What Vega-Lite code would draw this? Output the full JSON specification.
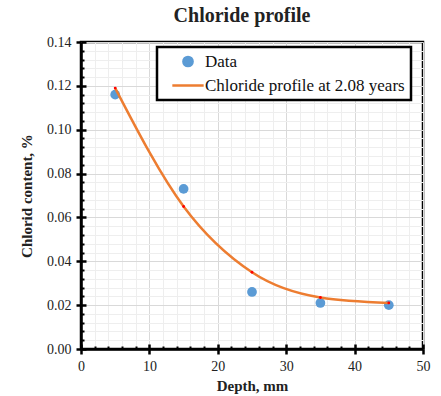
{
  "$schema": "https://vega.github.io/schema/vega-lite/v6.json",
  "width": 342,
  "height": 307,
  "autosize": {"type": "none"},
  "padding": {"left": 81, "top": 42, "right": 18, "bottom": 46},
  "background": "white",
  "config": {
    "view": {"stroke": "black", "strokeWidth": 2.5},
    "font": "Liberation Serif"
  },
  "title": {
    "text": "Chloride profile",
    "font": "Liberation Serif",
    "fontSize": 20,
    "fontWeight": "bold",
    "color": "#222222",
    "anchor": "middle",
    "dx": -10,
    "offset": 9
  },
  "datasets": {
    "obs": [
      {"depth": 5, "chloride": 0.116, "series": "Data"},
      {"depth": 15, "chloride": 0.073, "series": "Data"},
      {"depth": 25, "chloride": 0.026, "series": "Data"},
      {"depth": 35, "chloride": 0.021, "series": "Data"},
      {"depth": 45, "chloride": 0.020, "series": "Data"}
    ],
    "model": [
      {"depth": 5, "chloride": 0.119, "series": "Chloride profile at 2.08 years"},
      {"depth": 15, "chloride": 0.065, "series": "Chloride profile at 2.08 years"},
      {"depth": 25, "chloride": 0.035, "series": "Chloride profile at 2.08 years"},
      {"depth": 35, "chloride": 0.0235, "series": "Chloride profile at 2.08 years"},
      {"depth": 45, "chloride": 0.021, "series": "Chloride profile at 2.08 years"}
    ]
  },
  "resolve": {"axis": {"x": "independent", "y": "independent"}},
  "layer": [
    {
      "data": {"name": "obs"},
      "mark": {"type": "point", "filled": true, "opacity": 1, "size": 95, "shape": "circle"},
      "encoding": {
        "x": {
          "field": "depth", "type": "quantitative",
          "scale": {"domain": [0, 50], "nice": false, "zero": true},
          "axis": {
            "orient": "bottom",
            "values": [2,4,6,8,12,14,16,18,22,24,26,28,32,34,36,38,42,44,46,48],
            "grid": true, "gridColor": "#eeeeee", "gridWidth": 1,
            "labels": false, "domain": false, "title": null,
            "ticks": true, "tickSize": -3, "tickColor": "black", "tickWidth": 2
          }
        },
        "y": {
          "field": "chloride", "type": "quantitative",
          "scale": {"domain": [0, 0.14], "nice": false},
          "axis": {
            "orient": "left",
            "values": [0.004,0.008,0.012,0.016,0.024,0.028,0.032,0.036,0.044,0.048,0.052,0.056,0.064,0.068,0.072,0.076,0.084,0.088,0.092,0.096,0.104,0.108,0.112,0.116,0.124,0.128,0.132,0.136],
            "grid": true, "gridColor": "#eeeeee", "gridWidth": 1,
            "labels": false, "domain": false, "title": null,
            "ticks": true, "tickSize": -3, "tickColor": "black", "tickWidth": 2
          }
        },
        "color": {
          "field": "series", "type": "nominal",
          "scale": {"domain": ["Data", "Chloride profile at 2.08 years"], "range": ["#5b9bd5", "#ed7d31"]},
          "legend": {
            "title": null,
            "orient": "none",
            "legendX": 76,
            "legendY": 5,
            "direction": "vertical",
            "strokeColor": "black",
            "fillColor": "white",
            "padding": 6,
            "rowPadding": 4,
            "labelFont": "Liberation Serif",
            "labelFontSize": 17,
            "labelColor": "#111111",
            "labelOffset": 25,
            "symbolStrokeWidth": 2.5,
            "symbolSize": 85,
            "symbolOpacity": 1,
            "labelLimit": 400,
            "encode": {
              "legend": {"update": {"strokeWidth": {"value": 2.5}}},
              "symbols": {
                "update": {
                  "x": {"value": 25},
                  "shape": {"signal": "datum.value === 'Data' ? 'circle' : 'M-3.4,0H3.4'"},
                  "fill": {"signal": "datum.value === 'Data' ? '#5b9bd5' : 'transparent'"},
                  "stroke": {"signal": "datum.value === 'Data' ? 'transparent' : '#ed7d31'"},
                  "strokeWidth": {"value": 2.5},
                  "opacity": {"value": 1}
                }
              }
            }
          }
        }
      }
    },
    {
      "data": {"name": "model"},
      "mark": {"type": "line", "interpolate": "monotone", "strokeWidth": 2.5},
      "encoding": {
        "x": {
          "field": "depth", "type": "quantitative",
          "axis": {
            "orient": "bottom",
            "values": [0, 10, 20, 30, 40, 50],
            "format": "d",
            "grid": true, "gridColor": "#d9d9d9", "gridWidth": 1,
            "domain": true, "domainColor": "black", "domainWidth": 2.5,
            "ticks": true, "tickSize": 5, "tickColor": "black", "tickWidth": 2.5,
            "labelFont": "Liberation Serif", "labelFontSize": 14, "labelColor": "#222222", "labelPadding": 5,
            "labelFlush": false,
            "title": "Depth, mm",
            "titleFont": "Liberation Serif", "titleFontSize": 15, "titleFontWeight": "bold", "titleColor": "#222222", "titlePadding": 5
          }
        },
        "y": {
          "field": "chloride", "type": "quantitative",
          "axis": {
            "orient": "left",
            "values": [0, 0.02, 0.04, 0.06, 0.08, 0.1, 0.12, 0.14],
            "format": ".2f",
            "grid": true, "gridColor": "#d9d9d9", "gridWidth": 1,
            "domain": true, "domainColor": "black", "domainWidth": 2.5,
            "ticks": true, "tickSize": 5, "tickColor": "black", "tickWidth": 2.5,
            "labelFont": "Liberation Serif", "labelFontSize": 14, "labelColor": "#222222", "labelPadding": 5,
            "labelFlush": false,
            "title": "Chlorid content, %",
            "titleFont": "Liberation Serif", "titleFontSize": 15, "titleFontWeight": "bold", "titleColor": "#222222", "titlePadding": 12
          }
        },
        "color": {"field": "series", "type": "nominal"}
      }
    },
    {
      "data": {"name": "model"},
      "mark": {"type": "point", "filled": true, "shape": "circle", "size": 8, "color": "#ff0000", "opacity": 1},
      "encoding": {
        "x": {
          "field": "depth", "type": "quantitative",
          "axis": {
            "orient": "bottom", "values": [0, 10, 20, 30, 40, 50],
            "grid": false, "labels": false, "domain": false, "title": null,
            "ticks": true, "tickSize": -5, "tickColor": "black", "tickWidth": 2.5
          }
        },
        "y": {
          "field": "chloride", "type": "quantitative",
          "axis": {
            "orient": "left", "values": [0, 0.02, 0.04, 0.06, 0.08, 0.1, 0.12, 0.14],
            "grid": false, "labels": false, "domain": false, "title": null,
            "ticks": true, "tickSize": -5, "tickColor": "black", "tickWidth": 2.5
          }
        }
      }
    }
  ]
}
